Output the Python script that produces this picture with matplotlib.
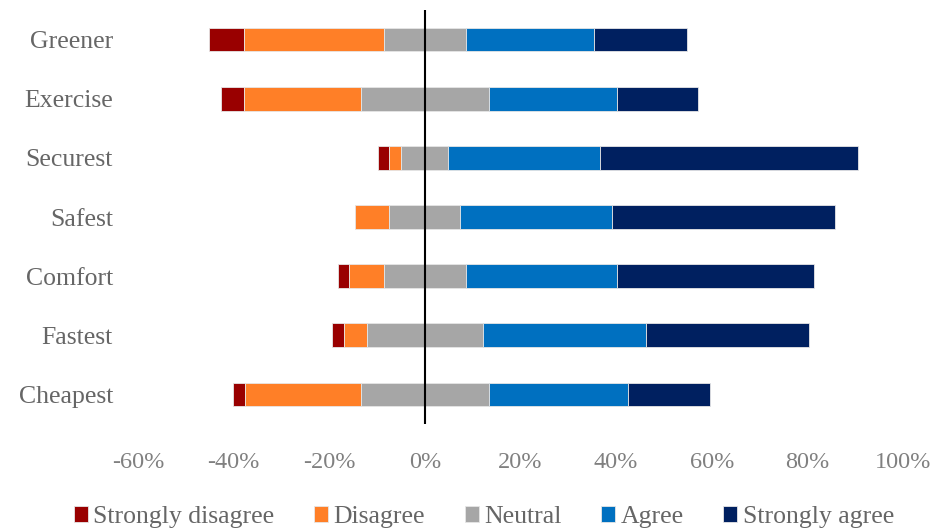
import matplotlib
matplotlib.use("Agg")
import matplotlib.pyplot as plt
import numpy as np
from matplotlib.ticker import FuncFormatter

categories = ["Greener", "Exercise", "Securest", "Safest", "Comfort", "Fastest", "Cheapest"]
strongly_disagree = [7.3, 4.9, 2.5, 0.0, 2.4, 2.4, 2.5]
disagree = [29.2, 24.3, 2.5, 7.3, 7.3, 4.8, 24.3]
neutral = [17.1, 26.9, 9.8, 14.8, 17.1, 24.4, 26.7]
agree = [26.8, 26.8, 31.8, 31.8, 31.7, 34.1, 29.2]
strongly_agree = [19.5, 16.9, 53.8, 46.5, 41.2, 34.0, 17.0]
series_names = ["Strongly disagree", "Disagree", "Neutral", "Agree", "Strongly agree"]
colors = ["#990000", "#FF7F27", "#A6A6A6", "#0070C0", "#002060"]
xticks = [-60, -40, -20, 0, 20, 40, 60, 80, 100]

plt.rcParams['font.family'] = ['Liberation Serif', 'DejaVu Serif']

fig = plt.figure(figsize=(9.34, 5.28), dpi=100)
ax = fig.add_axes([138/934, 1-424/528, (903-138)/934, 414/528])

y = np.arange(len(categories))[::-1]
sd = np.array(strongly_disagree)
d = np.array(disagree)
n = np.array(neutral)
a = np.array(agree)
sa = np.array(strongly_agree)

start = -(sd + d + n / 2)
data = [sd, d, n, a, sa]
left = start.copy()
for vals, name, c in zip(data, series_names, colors):
    ax.barh(y, vals, left=left, height=0.4, color=c, label=name,
            edgecolor='#E6E6E6', linewidth=0.6)
    left = left + vals

ax.set_xlim(-60, 100)
ax.set_ylim(-0.5, len(categories) - 0.5)
ax.set_xticks(xticks)
ax.xaxis.set_major_formatter(FuncFormatter(lambda v, p: f"{int(v)}%"))
ax.set_yticks(y)
ax.set_yticklabels(categories)

for s in ["top", "right", "bottom", "left"]:
    ax.spines[s].set_visible(False)
ax.axvline(0, color="black", linewidth=1.5, zorder=5)

ax.tick_params(axis='x', length=0, pad=20, labelsize=17.5, labelcolor='#808080')
ax.tick_params(axis='y', length=0, pad=18, labelsize=18.5, labelcolor='#666666')

leg = fig.legend(loc='center', bbox_to_anchor=(0.518, 1-517/528), ncol=5,
                 frameon=False, fontsize=18.5, handlelength=0.55, handleheight=0.55,
                 handletextpad=0.2, columnspacing=1.55, labelcolor='#666666')

fig.savefig("out.png", dpi=100)
